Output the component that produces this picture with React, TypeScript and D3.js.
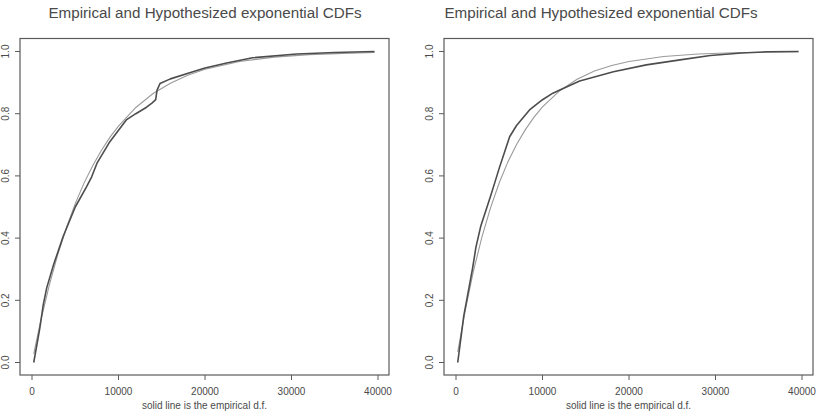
import React from "react";
import * as d3 from "d3";

// Tick values shared by both panels
const xTicks = [0, 10000, 20000, 30000, 40000];
const yTicks = [0, 0.2, 0.4, 0.6, 0.8, 1.0];

// Left panel: empirical d.f. (solid) and fitted exponential CDF
const leftEmpX = [200, 900, 1300, 1700, 2500, 3600, 5000, 6300, 6900, 7500, 9000, 10900, 12000, 13200, 13900, 14300, 14450, 14800, 16000, 18600, 20000, 22500, 25500, 30600, 35000, 39600];
const leftEmpY = [0.0, 0.11, 0.185, 0.24, 0.315, 0.405, 0.5, 0.565, 0.597, 0.64, 0.71, 0.78, 0.8, 0.82, 0.835, 0.845, 0.875, 0.897, 0.912, 0.935, 0.947, 0.963, 0.98, 0.992, 0.997, 1.0];
const leftFitX = [200, 1000, 2000, 3000, 4000, 5000, 6000, 7000, 8000, 9000, 10000, 12000, 14000, 16000, 18000, 20000, 24000, 28000, 32000, 36000, 39600];
const leftFitY = [0.028, 0.133, 0.249, 0.349, 0.435, 0.511, 0.576, 0.632, 0.681, 0.724, 0.76, 0.82, 0.865, 0.898, 0.924, 0.943, 0.968, 0.982, 0.99, 0.994, 0.997];

// Right panel
const rightEmpX = [200, 900, 1900, 2300, 2850, 4000, 4500, 5000, 6200, 7000, 8500, 10000, 11200, 12000, 14300, 18200, 22000, 25900, 29400, 33000, 36000, 39600];
const rightEmpY = [0.0, 0.15, 0.3, 0.37, 0.437, 0.535, 0.58, 0.625, 0.726, 0.762, 0.812, 0.845, 0.866, 0.876, 0.905, 0.935, 0.957, 0.973, 0.987, 0.995, 0.999, 1.0];
const rightFitX = [200, 1000, 2000, 3000, 4000, 5000, 6000, 7000, 8000, 9000, 10000, 12000, 14000, 16000, 18000, 20000, 24000, 28000, 32000, 36000, 39600];
const rightFitY = [0.034, 0.158, 0.292, 0.404, 0.498, 0.578, 0.645, 0.701, 0.748, 0.788, 0.822, 0.874, 0.911, 0.937, 0.955, 0.968, 0.984, 0.992, 0.996, 0.998, 0.999];

const titleText = "Empirical and Hypothesized exponential CDFs";
const xLabelText = "solid line is the empirical d.f.";

type Pt = [number, number];
const zip = (xs: number[], ys: number[]): Pt[] => xs.map((x, i) => [x, ys[i]]);

const FONT = "'Liberation Sans', Arial, Helvetica, sans-serif";
const TEXT = "#4a4a4a";
const AXIS = "#5a5a5a";

interface PanelProps {
  left: number;
  right: number;
  x0: number;
  x40k: number;
  titleX: number;
  emp: Pt[];
  fit: Pt[];
}

function Panel({ left, right, x0, x40k, titleX, emp, fit }: PanelProps) {
  const top = 38.5;
  const bottom = 375;
  const x = d3.scaleLinear().domain([0, 40000]).range([x0, x40k]);
  const y = d3.scaleLinear().domain([0, 1]).range([362.5, 51.5]);
  const line = d3
    .line<Pt>()
    .x((d) => x(d[0]))
    .y((d) => y(d[1]))
    .curve(d3.curveLinear);
  const midX = (left + right) / 2;

  return (
    <g>
      <text x={titleX} y={18} textAnchor="middle" fontFamily={FONT} fontSize={15.2} fill={TEXT}>
        {titleText}
      </text>
      <rect x={left} y={top} width={right - left} height={bottom - top} fill="none" stroke={AXIS} strokeWidth={1.2} />
      {yTicks.map((t) => (
        <g key={"y" + t}>
          <line x1={left - 5} x2={left} y1={y(t)} y2={y(t)} stroke={AXIS} strokeWidth={1} />
          <text
            transform={`translate(${left - 11},${y(t)}) rotate(-90)`}
            textAnchor="middle"
            fontFamily={FONT}
            fontSize={10}
            fill={TEXT}
          >
            {t.toFixed(1)}
          </text>
        </g>
      ))}
      {xTicks.map((t) => (
        <g key={"x" + t}>
          <line x1={x(t)} x2={x(t)} y1={bottom} y2={bottom + 5} stroke={AXIS} strokeWidth={1} />
          <text x={x(t)} y={395} textAnchor="middle" fontFamily={FONT} fontSize={10} fill={TEXT}>
            {t}
          </text>
        </g>
      ))}
      <text x={midX} y={409} textAnchor="middle" fontFamily={FONT} fontSize={10} fill={TEXT}>
        {xLabelText}
      </text>
      <path d={line(fit) ?? ""} fill="none" stroke="#9a9a9a" strokeWidth={1.1} />
      <path d={line(emp) ?? ""} fill="none" stroke="#4d4d4d" strokeWidth={1.6} strokeLinejoin="round" />
    </g>
  );
}

export default function App() {
  return (
    <svg
      width={816}
      height={419}
      viewBox="0 0 816 419"
      style={{ position: "absolute", left: 0, top: 0, background: "#fff" }}
    >
      <rect width={816} height={419} fill="#fff" />
      <Panel left={20} right={389} x0={32} x40k={378} titleX={205} emp={zip(leftEmpX, leftEmpY)} fit={zip(leftFitX, leftFitY)} />
      <Panel left={444} right={813} x0={456} x40k={802} titleX={601} emp={zip(rightEmpX, rightEmpY)} fit={zip(rightFitX, rightFitY)} />
    </svg>
  );
}
